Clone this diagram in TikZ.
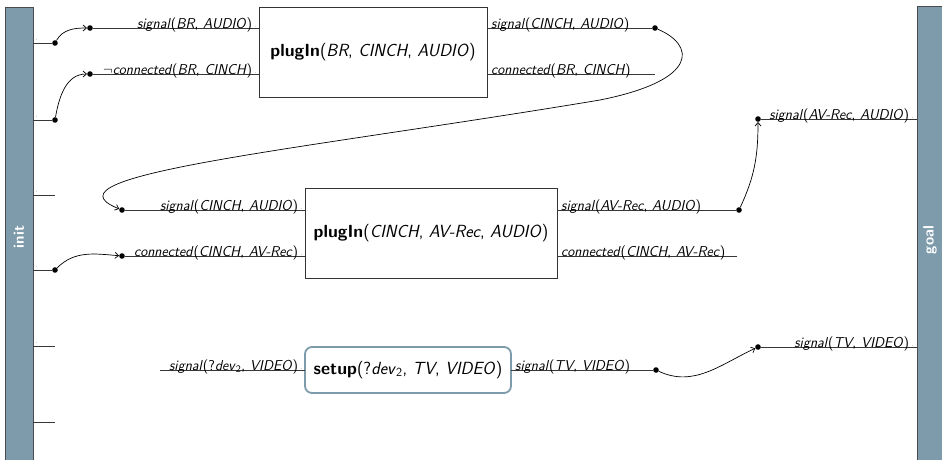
\documentclass[tikz,border=0pt]{standalone}
\usepackage{fontspec}
\usetikzlibrary{arrows.meta}
\definecolor{barc}{RGB}{126,155,171}
\definecolor{wirec}{RGB}{55,55,55}
\tikzset{
  bar/.style={draw=black!70, line width=0.9pt, fill=barc, inner sep=0pt, outer sep=0pt},
  barlab/.style={rotate=90, text=white, font=\sffamily\bfseries\fontsize{15}{17}\selectfont},
  wire/.style={draw=wirec, line width=1pt},
  arr/.style={draw=black, line width=0.7pt, -{Straight Barb[length=3.5pt,width=6pt]}},
  dot/.style={circle, fill=black, inner sep=0pt, minimum size=5.6pt},
  pbox/.style={draw=black!80, line width=0.9pt, fill=white, inner sep=0pt, outer sep=0pt, font=\sffamily\fontsize{17.6}{19}\selectfont},
  sbox/.style={draw=barc, line width=1.8pt, rounded corners=7pt, fill=white, inner sep=0pt, outer sep=0pt, font=\sffamily\fontsize{17.6}{19}\selectfont},
  lab/.style={inner sep=0pt, font=\sffamily\fontsize{14.3}{16}\selectfont},
  labl/.style={lab, anchor=base east},
  labr/.style={lab, anchor=base west},
  tdot/.style={inner sep=0pt, anchor=south west, font=\sffamily\tiny},
}
\newcommand{\ldot}{\,{\tiny$\cdot$}}
\begin{document}
\begin{tikzpicture}[x=1pt,y=-1pt]
\useasboundingbox (0,0) rectangle (942,459);
\clip (0,0) rectangle (942,459);
% bars
\node[bar, minimum width=28pt, minimum height=460pt, anchor=north west] (init) at (5,7) {};
\node[barlab] (initl) at (init.center) {init};
\node[bar, minimum width=28pt, minimum height=466pt, anchor=north west] (goal) at (917,6) {};
\node[barlab] (goall) at (930,240) {goal};
% boxes
\node[pbox, minimum width=228pt, minimum height=90pt] (p1) at (373,52) {\textbf{plugIn}(\textit{BR}, \textit{CINCH}, \textit{AUDIO})};
\node[pbox, minimum width=252pt, minimum height=90pt] (p2) at (431,233) {\textbf{plugIn}(\textit{CINCH}, \textit{AV-Rec}, \textit{AUDIO})};
\node[sbox, minimum width=206pt, minimum height=46pt] (p3) at (408,370) {\textbf{setup}(?\textit{dev}\textsubscript{2}, \textit{TV}, \textit{VIDEO})};
% init stubs
\node[dot] (s1) at (55,43) {};
\node[dot] (s2) at (55,120) {};
\coordinate (s3) at (55,195);
\node[dot] (s4) at (55,270) {};
\coordinate (s5) at (55,346);
\coordinate (s6) at (55,422);
\foreach \s in {s1,s2,s3,s4,s5,s6} {\draw[wire] (init.east |- \s) -- (\s);}
\node[tdot] (t1) at ([shift={(3,-2)}]init.east |- s1) {.};
\node[tdot] (t2) at ([shift={(3,-2)}]init.east |- s2) {.};
\node[tdot] (t3) at ([shift={(3,-2)}]init.east |- s3) {.};
\node[tdot] (t4) at ([shift={(3,-2)}]init.east |- s4) {.};
\node[tdot] (t5) at ([shift={(3,-2)}]init.east |- s5) {.};
% box 1 inputs / outputs
\node[dot] (a1) at (90,28) {};
\node[dot] (a2) at (90,74) {};
\draw[wire] (a1) -- (a1 -| p1.west);
\draw[wire] (a2) -- (a2 -| p1.west);
\node[labl] (la1) at ([xshift=-2pt]a1 -| p1.west) {\textit{signal}(\textit{BR}, \textit{AUDIO})\ldot};
\node[labl] (la2) at ([xshift=-2pt]a2 -| p1.west) {$\neg$\textit{connected}(\textit{BR}, \textit{CINCH})\ldot};
\node[dot] (b1) at (655,28) {};
\coordinate (b2) at (655,74);
\draw[wire] (p1.east |- b1) -- (b1);
\draw[wire] (p1.east |- b2) -- (b2);
\node[labr] (lb1) at ([xshift=4pt]p1.east |- b1) {\textit{signal}(\textit{CINCH}, \textit{AUDIO})};
\node[labr] (lb2) at ([xshift=4pt]p1.east |- b2) {\textit{connected}(\textit{BR}, \textit{CINCH})};
% box 2 inputs / outputs
\node[dot] (c1) at (122,210) {};
\node[dot] (c2) at (122,256) {};
\draw[wire] (c1) -- (c1 -| p2.west);
\draw[wire] (c2) -- (c2 -| p2.west);
\node[labl] (lc1) at ([xshift=-2pt]c1 -| p2.west) {\textit{signal}(\textit{CINCH}, \textit{AUDIO})\ldot};
\node[labl] (lc2) at ([xshift=-2pt]c2 -| p2.west) {\textit{connected}(\textit{CINCH}, \textit{AV-Rec})\ldot};
\node[dot] (e1) at (739,210) {};
\coordinate (e2) at (737,256);
\draw[wire] (p2.east |- e1) -- (e1);
\draw[wire] (p2.east |- e2) -- (e2);
\node[labr] (le1) at ([xshift=4pt]p2.east |- e1) {\textit{signal}(\textit{AV-Rec}, \textit{AUDIO})};
\node[labr] (le2) at ([xshift=4pt]p2.east |- e2) {\textit{connected}(\textit{CINCH}, \textit{AV-Rec})};
% box 3
\coordinate (f1) at (160,370);
\draw[wire] (f1) -- (f1 -| p3.west);
\node[labl] (lf1) at ([xshift=-2pt]f1 -| p3.west) {\textit{signal}(?\textit{dev}\textsubscript{2}, \textit{VIDEO})\ldot};
\node[dot] (h1) at (656,370) {};
\draw[wire] (p3.east |- h1) -- (h1);
\node[labr] (lh1) at ([xshift=4pt]p3.east |- h1) {\textit{signal}(\textit{TV}, \textit{VIDEO})};
% goal stubs
\node[dot] (g1) at (758,119) {};
\node[dot] (g2) at (758,347) {};
\draw[wire] (g1) -- (g1 -| goal.west);
\draw[wire] (g2) -- (g2 -| goal.west);
\node[labl] (lg1) at ([xshift=-3pt]g1 -| goal.west) {\textit{signal}(\textit{AV-Rec}, \textit{AUDIO})\ldot};
\node[labl] (lg2) at ([xshift=-3pt]g2 -| goal.west) {\textit{signal}(\textit{TV}, \textit{VIDEO})\ldot};
% connectors
\draw[arr] (s1) to[out=60, in=180] (a1);
\draw[arr] (s2) to[out=80, in=180] (a2);
\draw[arr] (s4) to[out=45, in=175] (c2);
\draw[arr] (b1) .. controls (695,45) and (700,80) .. (600,100) .. controls (300,150) and (35,175) .. (c1);
\draw[arr] (e1) to[out=65, in=-90] (g1);
\draw[arr] (h1) to[out=-25, in=205] (g2);
\end{tikzpicture}
\end{document}
